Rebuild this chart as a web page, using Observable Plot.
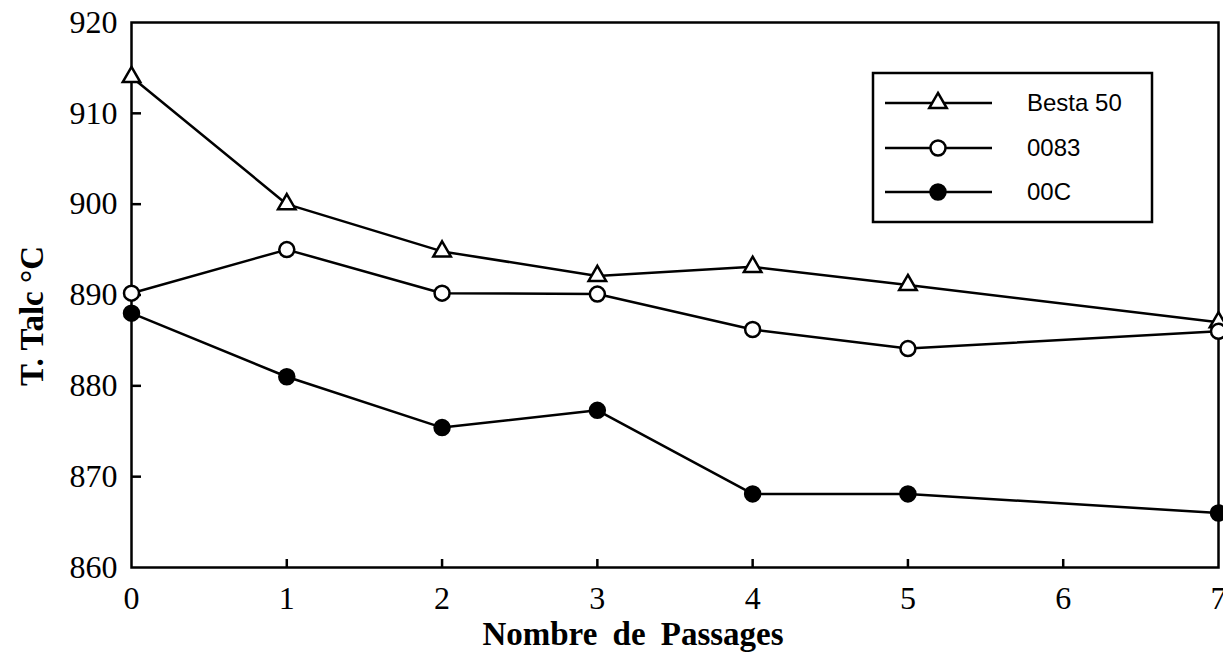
<!DOCTYPE html>
<html><head><meta charset="utf-8">
<script src="https://cdn.jsdelivr.net/npm/d3@7"></script>
<script src="https://cdn.jsdelivr.net/npm/@observablehq/plot@0.6"></script>
<style>body{margin:0;background:#fff} #chart{width:1223px;height:652px}</style>
</head><body><div id="chart"></div>
<script>
// ---- data ----
const passages = [0, 1, 2, 3, 4, 5, 7];
const besta50 = [914, 900, 894.8, 892.1, 893.1, 891.1, 887];
const s0083   = [890.2, 895, 890.2, 890.1, 886.2, 884.1, 886];
const s00C    = [888, 881, 875.4, 877.3, 868.1, 868.1, 866];
const seriesNames = ["Besta 50", "0083", "00C"];
const xTicks = [0, 1, 2, 3, 4, 5, 6, 7];
const yTicks = [860, 870, 880, 890, 900, 910, 920];
const xLabel = "Nombre de Passages";
const yLabel = "T. Talc °C";

const toRows = (name, vals) => passages.map((p, i) => ({series: name, passage: p, temp: vals[i]}));
const rowsB = toRows(seriesNames[0], besta50);
const rowsO = toRows(seriesNames[1], s0083);
const rowsC = toRows(seriesNames[2], s00C);
const rows = [...rowsB, ...rowsO, ...rowsC];

const W = 1223, H = 652, mL = 131, mR = 5, mT = 22, mB = 85;
const pw = W - mL - mR, ph = H - mT - mB;
const SW = 2.5;

const plot = Plot.plot({
  width: W, height: H,
  marginLeft: mL, marginRight: mR, marginTop: mT, marginBottom: mB,
  style: {fontFamily: "'Liberation Serif', 'Times New Roman', serif", background: "white", color: "black", overflow: "visible"},
  x: {domain: [0, 7]},
  y: {domain: [860, 920]},
  marks: [
    Plot.ruleY(yTicks.slice(1, -1), {y: d => d, insetRight: pw - 10, stroke: "black", strokeWidth: SW}),
    Plot.ruleX(xTicks.slice(1, -1), {x: d => d, insetTop: ph - 8, stroke: "black", strokeWidth: SW}),
    Plot.frame({stroke: "black", strokeWidth: SW}),
    Plot.axisY(yTicks, {tickSize: 0, tickPadding: 14, fontSize: 32, tickFormat: "d", label: null}),
    Plot.axisX(xTicks, {tickSize: 0, tickPadding: 19, fontSize: 32, tickFormat: "d", label: null}),
    Plot.text([yLabel], {frameAnchor: "left", textAnchor: "middle", lineAnchor: "middle", dx: -99, dy: 21, rotate: -90, fontSize: 33, fontWeight: "bold"}),
    Plot.text([xLabel], {frameAnchor: "bottom", textAnchor: "middle", lineAnchor: "middle", dx: -42, dy: 67, fontSize: 33, fontWeight: "bold"}),
    Plot.line(rows, {x: "passage", y: "temp", z: "series", stroke: "black", strokeWidth: SW}),
    Plot.dot(rowsB, {x: "passage", y: "temp", symbol: "triangle", r: 6.5, fill: "white", stroke: "black", strokeWidth: SW}),
    Plot.dot(rowsO, {x: "passage", y: "temp", symbol: "circle", r: 7.5, fill: "white", stroke: "black", strokeWidth: SW}),
    Plot.dot(rowsC, {x: "passage", y: "temp", symbol: "circle", r: 7.5, fill: "black", stroke: "black", strokeWidth: SW})
  ]
});
document.getElementById("chart").appendChild(plot);
// wider word gaps in the x title, as in the reference
d3.select(plot).selectAll("text").filter(function () { return this.textContent === xLabel; })
  .style("word-spacing", "7px");

// ---- legend (inside plot, top right) ----
const svg = d3.select(plot);
const lg = svg.append("g");
lg.append("rect").attr("x", 873).attr("y", 73).attr("width", 279).attr("height", 149)
  .attr("fill", "white").attr("stroke", "black").attr("stroke-width", SW);
const legendRows = [
  {name: seriesNames[0], symbol: d3.symbolTriangle, fill: "white", y: 103},
  {name: seriesNames[1], symbol: d3.symbolCircle, fill: "white", y: 148},
  {name: seriesNames[2], symbol: d3.symbolCircle, fill: "black", y: 192}
];
legendRows.forEach(r => {
  lg.append("line").attr("x1", 885).attr("x2", 992).attr("y1", r.y).attr("y2", r.y)
    .attr("stroke", "black").attr("stroke-width", SW);
  const rad = r.symbol === d3.symbolTriangle ? 6.5 : 7.5;
  lg.append("path").attr("d", d3.symbol(r.symbol, Math.PI * rad * rad)())
    .attr("transform", `translate(938,${r.y})`)
    .attr("fill", r.fill).attr("stroke", "black").attr("stroke-width", SW);
  lg.append("text").attr("x", 1027).attr("y", r.y).attr("dy", "0.35em")
    .attr("text-anchor", "start")
    .attr("font-family", "'Liberation Sans', Arial, sans-serif").attr("font-size", 24)
    .attr("fill", "black").text(r.name);
});
</script>
</body></html>
